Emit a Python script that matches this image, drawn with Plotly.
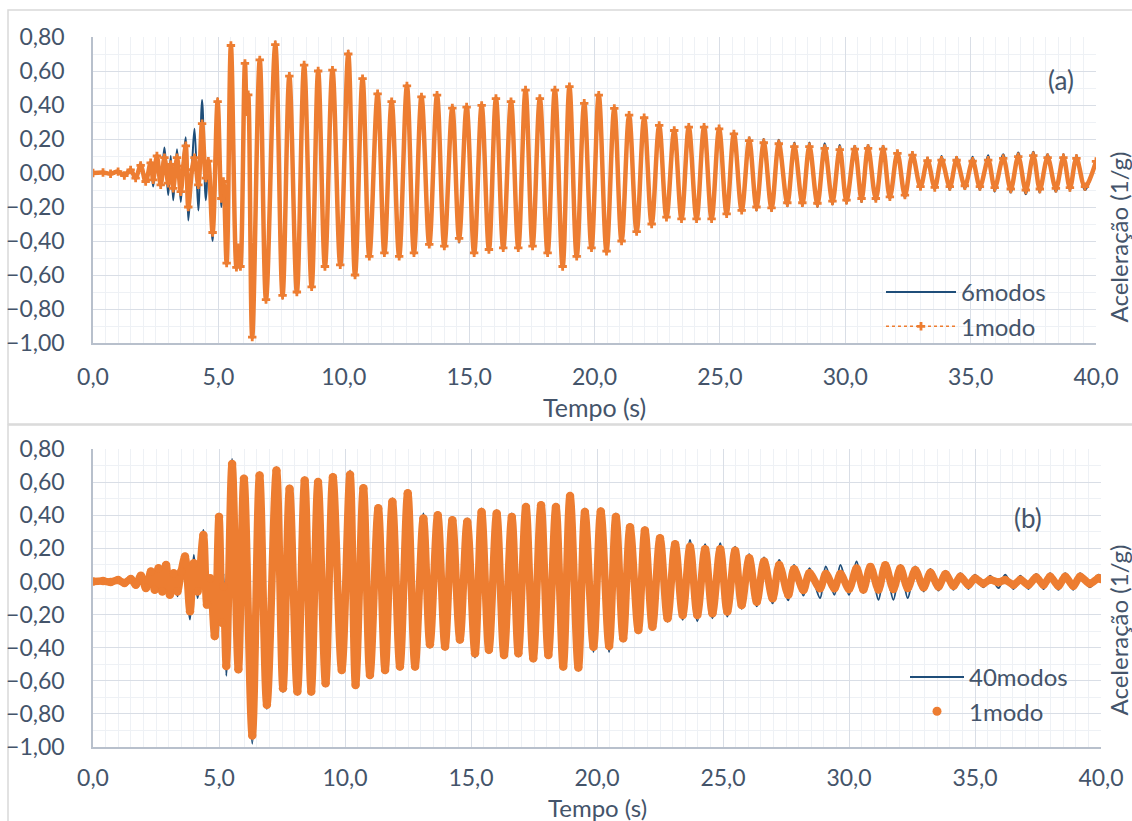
import plotly.graph_objects as go

# ---------------- data ----------------
# Panel (a): extrema of the response, time in s, acceleration in 1/g
t_a = [0.0, 0.4, 0.7, 1.0, 1.25, 1.5, 1.7, 1.9, 2.1, 2.3, 2.4, 2.55, 2.7, 2.85, 3.0, 3.1, 3.2, 3.35, 3.5, 3.6,
       3.7, 3.8, 3.95, 4.05, 4.2, 4.35, 4.5, 4.6, 4.77, 4.97, 5.12, 5.2, 5.33, 5.5, 5.72, 5.8, 5.88, 6.06, 6.13, 6.19,
       6.35, 6.65, 6.9, 7.27, 7.56, 7.83, 8.13, 8.42, 8.72, 8.98, 9.25, 9.55, 9.86, 10.18, 10.45, 10.75, 11.02, 11.35,
       11.62, 11.91, 12.21, 12.52, 12.8, 13.1, 13.41, 13.72, 14.01, 14.33, 14.6, 14.9, 15.2, 15.5, 15.79, 16.07, 16.36,
       16.67, 16.96, 17.25, 17.53, 17.82, 18.13, 18.42, 18.73, 19.0, 19.29, 19.59, 19.88, 20.17, 20.48, 20.79, 21.08,
       21.38, 21.68, 21.98, 22.28, 22.58, 22.87, 23.18, 23.47, 23.76, 24.07, 24.37, 24.67, 24.97, 25.27, 25.56, 25.87,
       26.17, 26.46, 26.75, 27.06, 27.35, 27.69, 27.97, 28.29, 28.57, 28.89, 29.18, 29.49, 29.78, 30.05, 30.38, 30.65,
       30.91, 31.22, 31.51, 31.78, 32.08, 32.38, 32.68, 33.0, 33.28, 33.57, 33.84, 34.17, 34.44, 34.77, 35.08, 35.37,
       35.7, 35.96, 36.3, 36.6, 36.9, 37.2, 37.5, 37.76, 38.07, 38.4, 38.7, 38.96, 39.22, 39.56, 40.0]
modos6_a = [0.0, 0.004, -0.006, 0.01, -0.015, 0.02, -0.035, 0.06, -0.05, 0.04, -0.08, 0.11, -0.06, 0.15, -0.13, 0.10,
            -0.16, 0.14, -0.17, 0.08, 0.21, -0.28, 0.05, 0.26, -0.22, 0.43, -0.16, 0.05, -0.40, 0.44, -0.20, -0.06,
            -0.54, 0.765, -0.57, -0.45, -0.56, 0.66, 0.36, 0.47, -0.98, 0.675, -0.76, 0.775, -0.74, 0.58, -0.71, 0.645,
            -0.68, 0.61, -0.56, 0.615, -0.55, 0.72, -0.61, 0.567, -0.50, 0.478, -0.48, 0.43, -0.50, 0.524, -0.48, 0.46,
            -0.43, 0.47, -0.44, 0.40, -0.41, 0.40, -0.48, 0.41, -0.46, 0.45, -0.45, 0.43, -0.45, 0.50, -0.44, 0.45,
            -0.48, 0.50, -0.56, 0.52, -0.50, 0.42, -0.45, 0.47, -0.47, 0.39, -0.41, 0.35, -0.355, 0.335, -0.31, 0.29,
            -0.27, 0.26, -0.28, 0.28, -0.28, 0.28, -0.28, 0.27, -0.25, 0.24, -0.23, 0.21, -0.22, 0.20, -0.225, 0.195,
            -0.195, 0.18, -0.195, 0.18, -0.20, 0.175, -0.185, 0.165, -0.18, 0.16, -0.17, 0.165, -0.165, 0.16, -0.155,
            0.13, -0.145, 0.12, -0.095, 0.09, -0.10, 0.10, -0.10, 0.095, -0.095, 0.095, -0.10, 0.105, -0.11, 0.11,
            -0.115, 0.12, -0.125, 0.125, -0.115, 0.11, -0.11, 0.11, -0.105, 0.105, -0.10, 0.08]
modo1_a = [0.0, 0.003, -0.004, 0.008, -0.015, 0.018, -0.03, 0.045, -0.05, 0.06, -0.04, 0.10, -0.07, 0.09, -0.06, 0.05,
           -0.09, 0.09, -0.11, 0.04, 0.16, -0.20, 0.02, 0.09, -0.07, 0.29, -0.03, 0.07, -0.35, 0.42, -0.15, -0.05,
           -0.53, 0.75, -0.555, -0.44, -0.55, 0.645, 0.36, 0.46, -0.965, 0.665, -0.745, 0.755, -0.72, 0.57, -0.70, 0.635,
           -0.67, 0.60, -0.55, 0.605, -0.54, 0.70, -0.60, 0.555, -0.49, 0.466, -0.47, 0.42, -0.49, 0.512, -0.47, 0.448,
           -0.42, 0.458, -0.43, 0.382, -0.385, 0.388, -0.47, 0.398, -0.45, 0.438, -0.44, 0.42, -0.44, 0.488, -0.43,
           0.438, -0.47, 0.488, -0.55, 0.508, -0.49, 0.41, -0.44, 0.458, -0.46, 0.38, -0.40, 0.34, -0.345, 0.325, -0.30,
           0.28, -0.26, 0.25, -0.27, 0.27, -0.27, 0.27, -0.27, 0.26, -0.24, 0.23, -0.22, 0.19, -0.20, 0.178, -0.205,
           0.172, -0.175, 0.155, -0.175, 0.155, -0.178, 0.145, -0.165, 0.137, -0.16, 0.14, -0.15, 0.145, -0.15, 0.14,
           -0.14, 0.115, -0.13, 0.105, -0.08, 0.072, -0.085, 0.076, -0.08, 0.075, -0.075, 0.07, -0.08, 0.076, -0.086,
           0.086, -0.094, 0.096, -0.10, 0.102, -0.094, 0.09, -0.09, 0.09, -0.086, 0.086, -0.08, 0.068]

# Panel (b)
t_b = [0.0, 0.4, 0.7, 1.0, 1.25, 1.5, 1.7, 1.9, 2.1, 2.3, 2.45, 2.6, 2.75, 2.9, 3.05, 3.2, 3.35, 3.5, 3.65, 3.85,
       4.0, 4.15, 4.38, 4.52, 4.65, 4.83, 5.0, 5.12, 5.18, 5.29, 5.52, 5.77, 5.99, 6.32, 6.61, 6.9, 7.28, 7.54, 7.8,
       8.11, 8.4, 8.66, 8.93, 9.23, 9.52, 9.87, 10.2, 10.42, 10.73, 10.99, 11.32, 11.59, 11.88, 12.18, 12.49, 12.78,
       13.11, 13.37, 13.68, 13.97, 14.26, 14.56, 14.85, 15.16, 15.42, 15.71, 16.02, 16.31, 16.62, 16.88, 17.18, 17.47,
       17.78, 18.07, 18.37, 18.66, 18.93, 19.26, 19.52, 19.86, 20.15, 20.48, 20.75, 21.04, 21.31, 21.64, 21.9, 22.2,
       22.5, 22.8, 23.1, 23.4, 23.69, 23.98, 24.29, 24.58, 24.89, 25.17, 25.48, 25.74, 26.04, 26.34, 26.63, 26.97,
       27.23, 27.59, 27.82, 28.19, 28.43, 28.85, 29.08, 29.42, 29.66, 30.0, 30.3, 30.57, 30.85, 31.17, 31.44, 31.76,
       32.04, 32.33, 32.63, 32.96, 33.23, 33.55, 33.83, 34.15, 34.42, 34.74, 35.0, 35.33, 35.6, 35.93, 36.2, 36.53,
       36.8, 37.12, 37.43, 37.72, 37.98, 38.31, 38.58, 38.9, 39.17, 39.56, 39.9, 40.0]
modos40_b = [0.0, 0.004, -0.005, 0.01, -0.015, 0.02, -0.03, 0.04, -0.05, 0.06, -0.06, 0.08, -0.07, 0.10, -0.08, 0.06,
             -0.09, 0.10, 0.16, -0.23, 0.16, -0.10, 0.31, -0.15, 0.02, -0.35, 0.41, -0.27, 0.05, -0.57, 0.74, -0.55,
             0.64, -0.98, 0.66, -0.77, 0.69, -0.67, 0.58, -0.685, 0.63, -0.685, 0.62, -0.635, 0.65, -0.555, 0.67,
             -0.645, 0.583, -0.585, 0.462, -0.555, 0.502, -0.534, 0.553, -0.534, 0.41, -0.40, 0.42, -0.413, 0.39, -0.37,
             0.38, -0.46, 0.44, -0.433, 0.43, -0.464, 0.41, -0.454, 0.47, -0.484, 0.48, -0.464, 0.47, -0.534, 0.536,
             -0.54, 0.44, -0.425, 0.442, -0.425, 0.41, -0.363, 0.347, -0.313, 0.327, -0.293, 0.281, -0.243, 0.245,
             -0.232, 0.25, -0.24, 0.225, -0.222, 0.23, -0.212, 0.21, -0.165, 0.165, -0.15, 0.145, -0.132, 0.13, -0.114,
             0.10, -0.085, 0.08, -0.10, 0.09, -0.08, 0.10, -0.08, 0.12, -0.07, 0.105, -0.11, 0.105, -0.11, 0.10, -0.10,
             0.09, -0.06, 0.075, -0.055, 0.065, -0.05, 0.05, -0.045, 0.04, -0.035, 0.035, -0.04, 0.04, -0.045, 0.035,
             -0.045, 0.045, -0.045, 0.05, -0.05, 0.05, -0.05, 0.05, -0.035, 0.04, 0.03]
modo1_b = [0.0, 0.003, -0.004, 0.008, -0.01, 0.015, -0.02, 0.035, -0.04, 0.06, -0.05, 0.08, -0.06, 0.10, -0.08, 0.05,
           -0.06, 0.06, 0.15, -0.18, 0.11, -0.06, 0.28, -0.14, 0.02, -0.33, 0.39, -0.25, -0.03, -0.51, 0.71, -0.53,
           0.62, -0.93, 0.64, -0.745, 0.67, -0.645, 0.56, -0.665, 0.61, -0.665, 0.60, -0.615, 0.63, -0.535, 0.645,
           -0.625, 0.563, -0.565, 0.442, -0.535, 0.482, -0.514, 0.533, -0.514, 0.38, -0.38, 0.40, -0.393, 0.37, -0.35,
           0.36, -0.434, 0.42, -0.413, 0.41, -0.444, 0.39, -0.434, 0.45, -0.464, 0.46, -0.444, 0.45, -0.514, 0.516,
           -0.52, 0.42, -0.394, 0.422, -0.39, 0.39, -0.343, 0.327, -0.293, 0.307, -0.273, 0.261, -0.223, 0.225, -0.202,
           0.21, -0.202, 0.195, -0.192, 0.195, -0.182, 0.186, -0.142, 0.14, -0.122, 0.12, -0.102, 0.10, -0.08, 0.074,
           -0.052, 0.05, -0.041, 0.045, -0.041, 0.045, -0.045, 0.078, -0.048, 0.088, -0.048, 0.098, -0.045, 0.078,
           -0.04, 0.068, -0.035, 0.052, -0.03, 0.043, -0.026, 0.028, -0.02, 0.018, -0.012, 0.01, -0.005, 0.008, -0.02,
           0.01, -0.02, 0.024, -0.02, 0.028, -0.026, 0.028, -0.026, 0.028, -0.012, 0.02, 0.015]

# ---------------- style ----------------
W, H = 1132, 821
BLUE = "#1F4E79"
ORANGE = "#ED7D31"
TXT = "#44546A"
FONT = "Lato"
GRID = "#D9DEE6"
MINOR = "#EEF1F5"
AXLINE = "#B8C0CC"


def px(x):
    return x / W


def py(y):
    return 1 - y / H


fig = go.Figure()

# panel (a)
fig.add_trace(go.Scatter(x=t_a, y=modos6_a, mode="lines", name="6modos",
                         line=dict(color=BLUE, width=2, shape="spline", smoothing=1.0),
                         xaxis="x", yaxis="y", legend="legend"))
fig.add_trace(go.Scatter(x=t_a, y=modo1_a, mode="lines+markers", name="1modo", showlegend=False,
                         line=dict(color=ORANGE, width=4.5, shape="spline", smoothing=1.0),
                         marker=dict(symbol="cross", size=7, color=ORANGE),
                         xaxis="x", yaxis="y"))
fig.add_trace(go.Scatter(x=[None], y=[None], mode="lines+markers", name="1modo",
                         line=dict(color=ORANGE, width=1.5, dash="dot"),
                         marker=dict(symbol="cross", size=7, color=ORANGE),
                         xaxis="x", yaxis="y", legend="legend"))

# panel (b)
fig.add_trace(go.Scatter(x=t_b, y=modos40_b, mode="lines", name="40modos",
                         line=dict(color=BLUE, width=2, shape="spline", smoothing=1.0),
                         xaxis="x2", yaxis="y2", legend="legend2"))
fig.add_trace(go.Scatter(x=t_b, y=modo1_b, mode="lines+markers", name="1modo", showlegend=False,
                         line=dict(color=ORANGE, width=7.5, shape="spline", smoothing=1.0),
                         marker=dict(symbol="circle", size=8.5, color=ORANGE),
                         xaxis="x2", yaxis="y2"))
fig.add_trace(go.Scatter(x=[None], y=[None], mode="markers", name="1modo",
                         marker=dict(symbol="circle", size=9, color=ORANGE),
                         xaxis="x2", yaxis="y2", legend="legend2"))

tickfont = dict(family=FONT, size=23, color=TXT)


def xaxis(domain, anchor, standoff):
    return dict(domain=domain, anchor=anchor, range=[0, 40], dtick=5, tick0=0, tickformat=".1f",
                showgrid=True, gridcolor=GRID, gridwidth=1, zeroline=False, automargin=False,
                minor=dict(dtick=0.5, showgrid=True, gridcolor=MINOR, gridwidth=1),
                showline=True, linecolor=AXLINE, linewidth=1.5, ticks="",
                tickfont=tickfont, ticklabelstandoff=standoff)


def yaxis(domain, anchor):
    return dict(domain=domain, anchor=anchor, range=[-1.0, 0.8], dtick=0.2, tick0=0, tickformat=".2f",
                showgrid=True, gridcolor=GRID, gridwidth=1, zeroline=False, automargin=False,
                minor=dict(dtick=0.1, showgrid=True, gridcolor=MINOR, gridwidth=1),
                showline=True, linecolor=AXLINE, linewidth=1.5, ticks="",
                tickfont=tickfont, ticklabelstandoff=22)


fig.update_layout(
    template="none",
    width=W, height=H, autosize=False,
    margin=dict(l=0, r=0, t=0, b=0, pad=0),
    paper_bgcolor="white", plot_bgcolor="white",
    separators=",.",
    font=dict(family=FONT, size=23, color=TXT),
    xaxis=xaxis([px(93), px(1096)], "y", 13),
    yaxis=yaxis([py(343), py(37)], "x"),
    xaxis2=xaxis([px(93), px(1101)], "y2", 10),
    yaxis2=yaxis([py(747), py(449)], "x2"),
    legend=dict(x=px(881), y=py(270), xanchor="left", yanchor="top", bgcolor="rgba(0,0,0,0)",
                font=dict(family=FONT, size=24, color=TXT), tracegroupgap=0, itemwidth=70),
    legend2=dict(x=px(905), y=py(655), xanchor="left", yanchor="top", bgcolor="rgba(0,0,0,0)",
                 font=dict(family=FONT, size=24, color=TXT), tracegroupgap=0, itemwidth=54),
    showlegend=True,
)

# chart area borders
fig.add_shape(type="rect", xref="paper", yref="paper", x0=px(8), x1=px(1140), y0=py(10), y1=py(424),
              line=dict(color="#D9D9D9", width=1.5), fillcolor="rgba(0,0,0,0)", layer="below")
fig.add_shape(type="rect", xref="paper", yref="paper", x0=px(8), x1=px(1140), y0=py(425), y1=py(840),
              line=dict(color="#D9D9D9", width=1.5), fillcolor="rgba(0,0,0,0)", layer="below")

# x-axis titles
fig.add_annotation(text="Tempo (s)", x=px(594.5), y=py(407), xref="paper", yref="paper", showarrow=False,
                   xanchor="center", yanchor="middle", font=dict(family=FONT, size=25, color=TXT))
fig.add_annotation(text="Tempo (s)", x=px(597), y=py(807), xref="paper", yref="paper", showarrow=False,
                   xanchor="center", yanchor="middle", font=dict(family=FONT, size=24, color=TXT))

# panel labels and right-side axis titles
fig.add_annotation(text="(a)", x=px(1061), y=py(80), xref="paper", yref="paper", showarrow=False,
                   xanchor="center", yanchor="middle", font=dict(family=FONT, size=26, color=TXT))
fig.add_annotation(text="(b)", x=px(1028), y=py(518), xref="paper", yref="paper", showarrow=False,
                   xanchor="center", yanchor="middle", font=dict(family=FONT, size=26, color=TXT))
fig.add_annotation(text="Aceleração (1/g)", textangle=-90, x=px(1101), y=py(237), xref="paper", yref="paper",
                   xanchor="left", yanchor="middle", showarrow=False, font=dict(family=FONT, size=24, color=TXT))
fig.add_annotation(text="Aceleração (1/g)", textangle=-90, x=px(1101), y=py(630), xref="paper", yref="paper",
                   xanchor="left", yanchor="middle", showarrow=False, font=dict(family=FONT, size=24, color=TXT))

fig.write_html("out.html", config={"displayModeBar": False},
               post_script="document.body.style.margin='0';document.body.style.overflow='hidden';")
